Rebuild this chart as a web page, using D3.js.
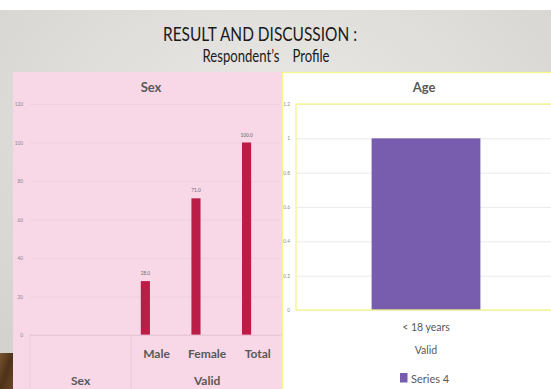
<!DOCTYPE html>
<html>
<head>
<meta charset="utf-8">
<script src="https://cdn.jsdelivr.net/npm/d3@7"></script>
<style>
  html, body { margin: 0; padding: 0; background: #fff; }
  svg { display: block; }
  text { font-family: Lato, "Open Sans", sans-serif; }
</style>
</head>
<body>
<svg id="slide" width="551" height="389"></svg>
<script>
// Sex chart: two-level categories (group "Sex" is empty, group "Valid" holds the counts)
const sexCategories = ["s1", "s2", "Male", "Female", "Total"];
const sexGroups = [
  { name: "Sex", members: ["s1", "s2"] },
  { name: "Valid", members: ["Male", "Female", "Total"] }
];
const sexValues = [null, null, 28.0, 71.0, 100.0];
const sexTicks = [0, 20, 40, 60, 80, 100, 120];

// Age chart
const ageCategories = ["< 18 years"];
const ageGroup = "Valid";
const ageValues = [1];
const ageTicks = [0, 0.2, 0.4, 0.6, 0.8, 1, 1.2];
const ageSeriesName = "Series 4";

const svg = d3.select("#slide");
const W = 551, H = 389;

// slide background with soft radial shading
const defs = svg.append("defs");
const grad = defs.append("radialGradient").attr("id", "bg")
  .attr("cx", "50%").attr("cy", "30%").attr("r", "75%");
grad.append("stop").attr("offset", "0%").attr("stop-color", "#ebe9e6");
grad.append("stop").attr("offset", "100%").attr("stop-color", "#d4d2ce");
svg.append("rect").attr("x", 0).attr("y", 0).attr("width", W).attr("height", H).attr("fill", "#ffffff");
svg.append("rect").attr("x", 0).attr("y", 10).attr("width", W).attr("height", H - 10).attr("fill", "url(#bg)");
// wooden strip peeking at the bottom-left corner
const wood = defs.append("linearGradient").attr("id", "wood").attr("x1", "0").attr("y1", "0").attr("x2", "1").attr("y2", "1");
wood.append("stop").attr("offset", "0%").attr("stop-color", "#7a5530");
wood.append("stop").attr("offset", "50%").attr("stop-color", "#4e3219");
wood.append("stop").attr("offset", "100%").attr("stop-color", "#6b4727");
svg.append("rect").attr("x", 0).attr("y", 353).attr("width", 13).attr("height", 36).attr("fill", "url(#wood)");

// slide title
svg.append("text").attr("x", 260).attr("y", 41).attr("text-anchor", "middle")
  .attr("font-size", 19).attr("fill", "#1a1a1a")
  .attr("textLength", 194).attr("lengthAdjust", "spacingAndGlyphs")
  .text("RESULT AND DISCUSSION :");
svg.append("text").attr("x", 266).attr("y", 62).attr("text-anchor", "middle")
  .attr("font-size", 17).attr("fill", "#1a1a1a")
  .attr("textLength", 127).attr("lengthAdjust", "spacingAndGlyphs")
  .text("Respondent\u2019s\u2002\u2002Profile");

// ---------- Sex chart ----------
const gS = svg.append("g");
gS.append("rect").attr("x", 13).attr("y", 72).attr("width", 269).attr("height", 317).attr("fill", "#f8d7e7");
gS.append("text").attr("x", 151).attr("y", 92).attr("text-anchor", "middle")
  .attr("font-size", 13).attr("font-weight", 700).attr("fill", "#595959").text("Sex");

const yS = d3.scaleLinear().domain([0, 120]).range([335, 104]);
const xS = d3.scaleBand().domain(sexCategories).range([30, 283]).padding(0);

const axS = gS.append("g").attr("transform", "translate(30,0)")
  .call(d3.axisLeft(yS).tickValues(sexTicks).tickSize(-250).tickFormat(d3.format("d")).tickPadding(7));
axS.select(".domain").remove();
axS.selectAll(".tick line").attr("stroke", "#edcfe0").attr("stroke-width", 0.8);
axS.selectAll(".tick text").attr("font-size", 4.8).attr("fill", "#8a8a8a").attr("font-family", "Lato, sans-serif");
gS.select(".tick line").attr("stroke", "#e5c6d6");

const bw = xS.bandwidth();
const sexData = sexCategories.map((c, i) => ({ c, v: sexValues[i] })).filter(d => d.v != null);
gS.selectAll("rect.bar").data(sexData).enter().append("rect").attr("class", "bar")
  .attr("x", d => xS(d.c) + bw * 0.19).attr("width", bw * 0.18)
  .attr("y", d => yS(d.v)).attr("height", d => yS(0) - yS(d.v))
  .attr("fill", "#ba1d46");
gS.selectAll("text.val").data(sexData).enter().append("text").attr("class", "val")
  .attr("x", d => xS(d.c) + bw * 0.28).attr("y", d => yS(d.v) - 6)
  .attr("text-anchor", "middle").attr("font-size", 4.8).attr("fill", "#6a6a6a")
  .text(d => d3.format(".1f")(d.v));

// two-level category axis
const lineC = "#e8c8d8";
gS.append("line").attr("x1", 30).attr("x2", 283).attr("y1", 335).attr("y2", 335).attr("stroke", "#e5c4d4").attr("stroke-width", 0.8);
sexGroups.forEach(g => {
  const x0 = xS(g.members[0]);
  const x1 = xS(g.members[g.members.length - 1]) + bw;
  gS.append("line").attr("x1", x0).attr("x2", x0).attr("y1", 335).attr("y2", 389)
    .attr("stroke", lineC).attr("stroke-width", 0.8);
  gS.append("text").attr("x", (x0 + x1) / 2).attr("y", 385).attr("text-anchor", "middle")
    .attr("font-size", 12).attr("font-weight", 700).attr("fill", "#595959").text(g.name);
});
gS.selectAll("text.cat").data(["Male", "Female", "Total"]).enter().append("text").attr("class", "cat")
  .attr("x", d => xS(d) + bw / 2).attr("y", 358).attr("text-anchor", "middle")
  .attr("font-size", 12).attr("font-weight", 700).attr("fill", "#595959").text(d => d);

// ---------- Age chart ----------
const gA = svg.append("g");
gA.append("rect").attr("x", 282.5).attr("y", 72.5).attr("width", 270).attr("height", 318).attr("fill", "#ffffff")
  .attr("stroke", "#f6f58a").attr("stroke-width", 1.2);
gA.append("text").attr("x", 424).attr("y", 92).attr("text-anchor", "middle")
  .attr("font-size", 13).attr("font-weight", 700).attr("fill", "#595959").text("Age");

const yA = d3.scaleLinear().domain([0, 1.2]).range([310, 104]);
const xA = d3.scaleBand().domain(ageCategories).range([296, 556]).padding(0.41);

const axA = gA.append("g").attr("transform", "translate(296,0)")
  .call(d3.axisLeft(yA).tickValues(ageTicks).tickSize(-260).tickFormat(d3.format("")).tickPadding(6));
axA.select(".domain").remove();
axA.selectAll(".tick line").attr("stroke", "#e6e6e6").attr("stroke-width", 0.8);
axA.selectAll(".tick text").attr("font-size", 4.8).attr("fill", "#8a8a8a").attr("font-family", "Lato, sans-serif");

gA.selectAll("rect.bar").data(ageCategories.map((c, i) => ({ c, v: ageValues[i] }))).enter()
  .append("rect").attr("class", "bar")
  .attr("x", d => xA(d.c)).attr("width", xA.bandwidth())
  .attr("y", d => yA(d.v)).attr("height", d => yA(0) - yA(d.v))
  .attr("fill", "#785daf");

// plot-area frame
gA.append("rect").attr("x", 296).attr("y", 104).attr("width", 262).attr("height", 206)
  .attr("fill", "none").attr("stroke", "#f6f58a").attr("stroke-width", 1.3);

gA.selectAll("text.cat").data(ageCategories).enter().append("text").attr("class", "cat")
  .attr("x", d => xA(d) + xA.bandwidth() / 2).attr("y", 331).attr("text-anchor", "middle")
  .attr("font-size", 10.5).attr("fill", "#595959").text(d => d);
gA.append("text").attr("x", xA(ageCategories[0]) + xA.bandwidth() / 2).attr("y", 354).attr("text-anchor", "middle")
  .attr("font-size", 10.5).attr("fill", "#595959").text(ageGroup);

// legend
const lg = gA.append("g").attr("transform", "translate(400,373)");
lg.append("rect").attr("x", 0).attr("y", 0).attr("width", 7.5).attr("height", 9.5).attr("fill", "#785daf");
lg.append("text").attr("x", 11).attr("y", 9.5).attr("font-size", 11).attr("fill", "#595959").text(ageSeriesName);
</script>
</body>
</html>
